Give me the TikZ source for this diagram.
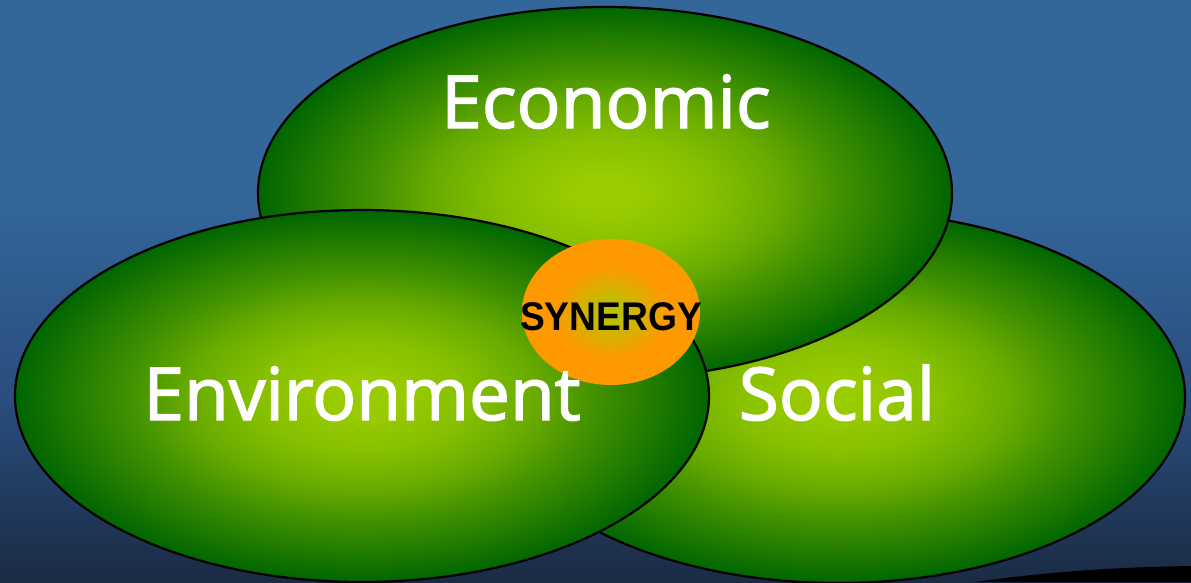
\documentclass[tikz,border=0pt]{standalone}
\usepackage{fontspec}
\setmainfont{Open Sans}
\newfontface\lblface{Open Sans}[FakeBold=2]
\newfontfamily\synfont{Liberation Sans}
\usetikzlibrary{shapes.geometric}
\definecolor{lg}{HTML}{99CC00}
\definecolor{dg}{HTML}{006600}
\definecolor{oc}{HTML}{BBC000}
\definecolor{orng}{HTML}{FF9900}
\definecolor{bgtop}{HTML}{336699}
\definecolor{bgmid}{HTML}{2A4E7E}
\definecolor{bgbot}{HTML}{1A2B44}
\pgfdeclareradialshading{greenball}{\pgfpoint{0bp}{0bp}}{color(0bp)=(lg); color(2.5bp)=(lg); color(7.5bp)=(lg!88!dg); color(12.5bp)=(lg!68!dg); color(16bp)=(lg!47!dg); color(25bp)=(dg); color(50bp)=(dg)}
\pgfdeclareradialshading{orangeball}{\pgfpoint{0bp}{0bp}}{color(0bp)=(oc); color(3bp)=(oc); color(16bp)=(orng); color(50bp)=(orng)}
\pgfdeclareverticalshading{bgshade}{100bp}{color(0bp)=(bgbot); color(25bp)=(bgbot); color(41bp)=(bgmid); color(58bp)=(bgtop); color(100bp)=(bgtop)}
\tikzset{
  pillar/.style={ellipse, draw=black, line width=2.2pt, shading=greenball, inner sep=0pt, minimum width=694pt, minimum height=372pt},
  core/.style={ellipse, shading=orangeball, inner sep=0pt, minimum width=178pt, minimum height=146pt},
  label/.style={text=white, font=\lblface\fontsize{73}{73}\selectfont, anchor=base, inner sep=0pt},
}
\begin{document}
\begin{tikzpicture}[x=1pt,y=-1pt]
\useasboundingbox (0,0) rectangle (1191,582);
\shade[shading=bgshade] (0,0) rectangle (1191,582);
\fill[black] (975,582) .. controls (1060,570) and (1130,567) .. (1191,566) -- (1191,582) -- cycle;
\node[pillar] (soc) at (838,397) {};
\node[pillar] (eco) at (605,193) {};
\node[pillar] (env) at (362,396) {};
\node[core] (syn) at (611,312) {};
\node[label] (ecot) at (606,128) {Economic};
\node[label] (envt) at (362,420) {Environment};
\node[label] (soct) at (837,420) {Social};
\node[inner sep=0pt, xscale=0.93, font=\synfont\bfseries\fontsize{40}{40}\selectfont] (synt) at (611,317) {SYNERGY};
\end{tikzpicture}
\end{document}
